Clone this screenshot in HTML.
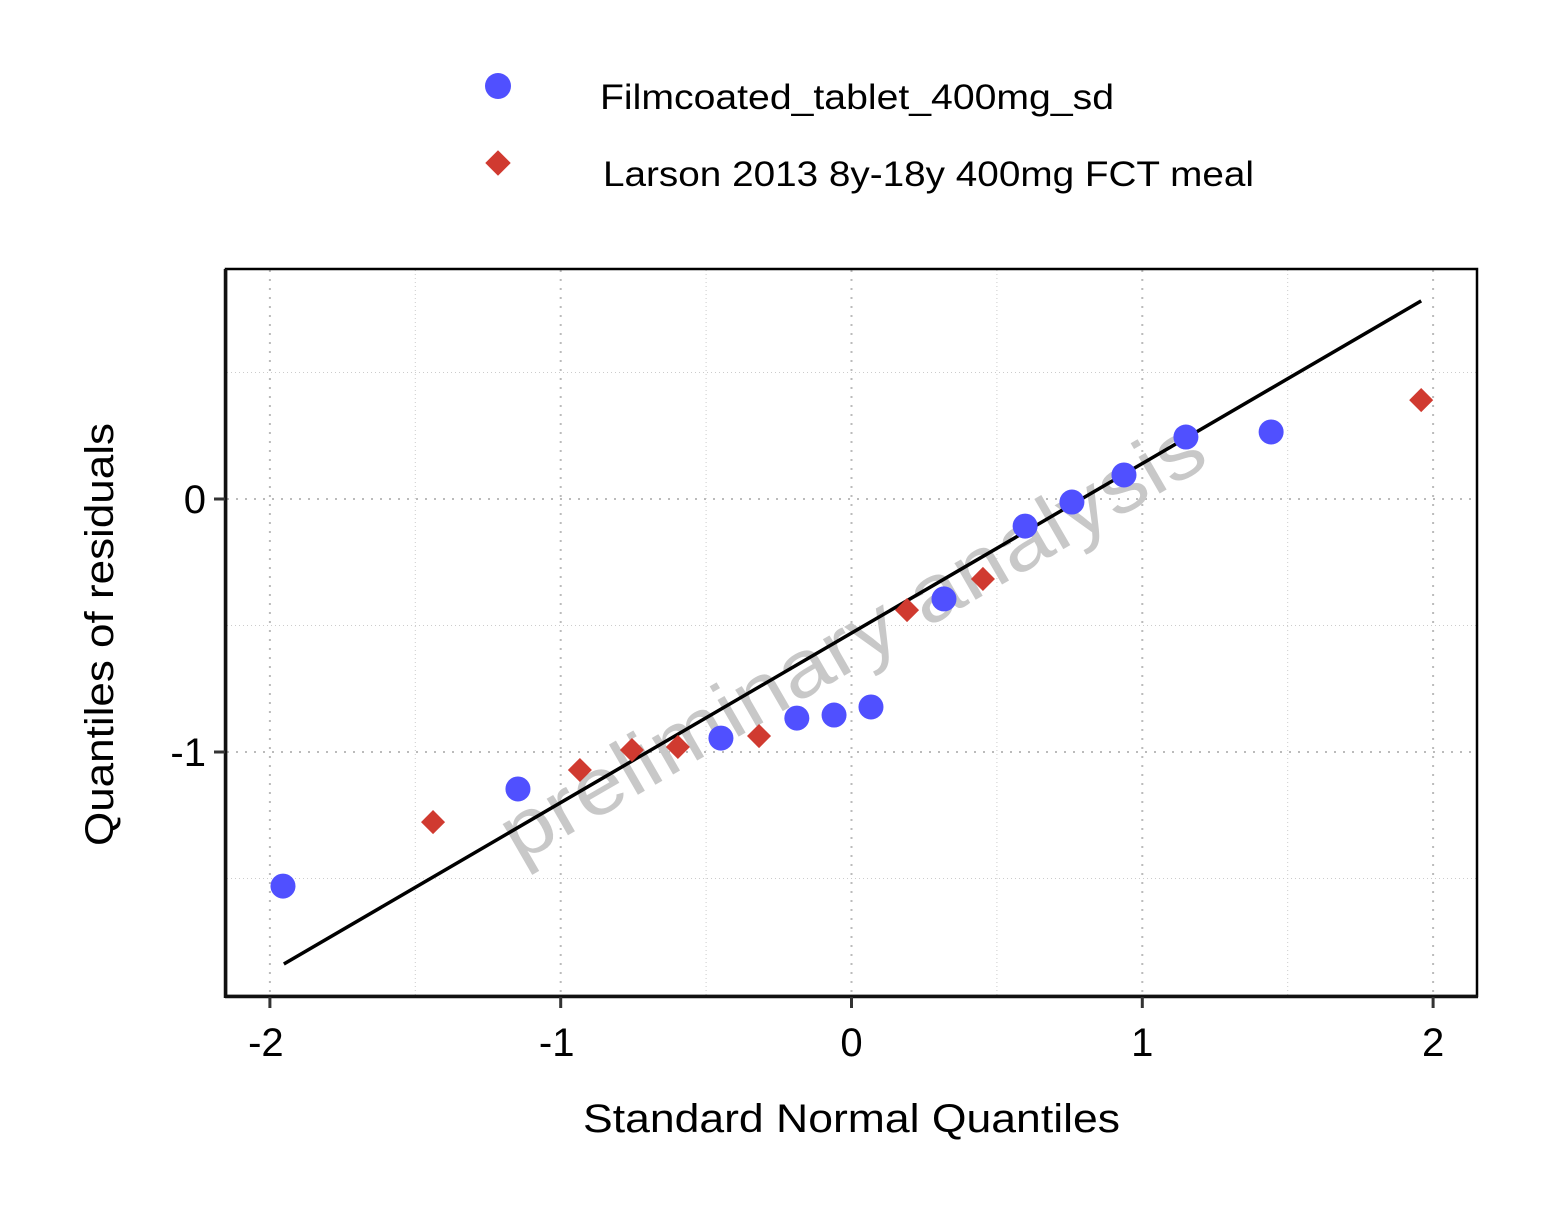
<!DOCTYPE html>
<html><head><meta charset="utf-8"><style>
body{margin:0;background:#fff}
svg{display:block;font-family:"Liberation Sans","DejaVu Sans",sans-serif}
</style></head><body>
<svg id="chart" width="1562" height="1226" viewBox="0 0 1562 1226" xmlns="http://www.w3.org/2000/svg">
<rect width="1562" height="1226" fill="#fff"/>
<g id="grid"></g>
<text x="860" y="665" font-size="80" fill="#c8c8c8" text-anchor="middle" textLength="800" lengthAdjust="spacingAndGlyphs" transform="rotate(-30 860 655)">preliminary analysis</text>
<g id="marks"></g>
<rect x="226" y="269" width="1251" height="727" fill="none" stroke="#000" stroke-width="2.5"/>
<line x1="225" y1="996.5" x2="1478" y2="996.5" stroke="#111" stroke-width="3.5"/>
<line x1="225.5" y1="269" x2="225.5" y2="998" stroke="#111" stroke-width="3.5"/>
<g id="ticks"></g>
<text x="583" y="1132" font-size="40" textLength="537" lengthAdjust="spacingAndGlyphs">Standard Normal Quantiles</text>
<text x="0" y="0" font-size="40" textLength="423" lengthAdjust="spacingAndGlyphs" transform="translate(113 846) rotate(-90)">Quantiles of residuals</text>
<g>
<circle cx="498" cy="86" r="13" fill="#5050ff"/>
<text x="600" y="109" font-size="35" textLength="514" lengthAdjust="spacingAndGlyphs">Filmcoated_tablet_400mg_sd</text>
<rect x="489" y="154" width="18" height="18" fill="#d03a30" transform="rotate(45 498 163)"/>
<text x="603" y="186" font-size="35" textLength="651" lengthAdjust="spacingAndGlyphs">Larson 2013 8y-18y 400mg FCT meal</text>
</g>
</svg>
<script>
const xTicks=[-2,-1,0,1,2];
const yTicks=[-1,0];
const xMinor=[-1.5,-0.5,0.5,1.5];
const yMinor=[-1.5,-0.5,0.5];
const blueX=[-1.955,-1.147,-0.449,-0.188,-0.060,0.067,0.318,0.597,0.758,0.937,1.150,1.443];
const blueY=[-1.53,-1.146,-0.945,-0.866,-0.854,-0.822,-0.395,-0.107,-0.012,0.095,0.245,0.265];
const redX=[-1.439,-0.934,-0.755,-0.597,-0.318,0.191,0.452,1.959];
const redY=[-1.277,-1.071,-0.992,-0.980,-0.937,-0.439,-0.316,0.391];
const lineX=[-1.952,1.959];
const lineY=[-1.838,0.783];
const NS='http://www.w3.org/2000/svg';
const sx=v=>851.5+v*290.8;
const sy=v=>499-v*253;
function mk(tag,attrs,parent){const e=document.createElementNS(NS,tag);for(const k in attrs)e.setAttribute(k,attrs[k]);parent.appendChild(e);return e;}
const grid=document.getElementById('grid'),marks=document.getElementById('marks'),ticks=document.getElementById('ticks');
xMinor.forEach(v=>{const l=mk('line',{x1:sx(v),x2:sx(v),y1:270,y2:995,stroke:'#ccc','stroke-width':1,'stroke-dasharray':'1 3'},grid);

});
yMinor.forEach(v=>{const l=mk('line',{x1:227,x2:1476,y1:sy(v),y2:sy(v),stroke:'#ccc','stroke-width':1,'stroke-dasharray':'1 3'},grid);

});
xTicks.forEach(v=>{const l=mk('line',{x1:sx(v),x2:sx(v),y1:270,y2:995,stroke:'#bbb','stroke-width':2,'stroke-dasharray':'2 7'},grid);


const t=mk('line',{x1:sx(v),x2:sx(v),y1:997,y2:1008,stroke:'#333','stroke-width':3},ticks);


const tx=mk('text',{x:sx(v)-(v<0?4:0),y:1056,'font-size':40,'text-anchor':'middle'},ticks);tx.textContent=v<0?'-'+Math.abs(v):String(v);

});
yTicks.forEach(v=>{const l=mk('line',{x1:227,x2:1476,y1:sy(v),y2:sy(v),stroke:'#bbb','stroke-width':2,'stroke-dasharray':'2 7'},grid);


const t=mk('line',{x1:214,x2:225,y1:sy(v),y2:sy(v),stroke:'#333','stroke-width':3},ticks);


const tx=mk('text',{x:206,y:sy(v)+14,'font-size':40,'text-anchor':'end'},ticks);tx.textContent=v<0?'-'+Math.abs(v):String(v);

});
const ln=mk('line',{x1:sx(lineX[0]),y1:sy(lineY[0]),x2:sx(lineX[1]),y2:sy(lineY[1]),stroke:'#000','stroke-width':3.5},marks);


blueX.forEach((v,i)=>{const c=mk('circle',{cx:sx(v),cy:sy(blueY[i]),r:12.5,fill:'#5050ff'},marks);

});
redX.forEach((v,i)=>{const x=sx(v),y=sy(redY[i]);const r=mk('rect',{x:x-8.5,y:y-8.5,width:17,height:17,fill:'#d03a30',transform:`rotate(45 ${x} ${y})`},marks);

});
</script>
</body></html>
